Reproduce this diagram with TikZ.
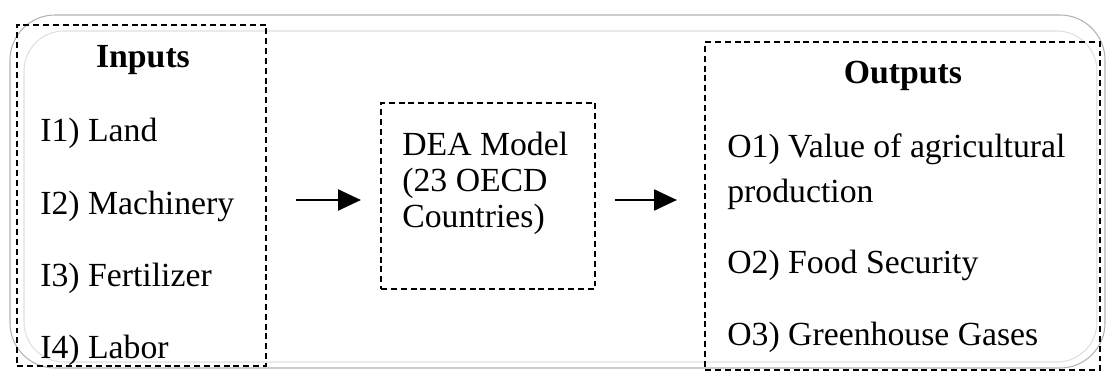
\documentclass[tikz,border=0pt]{standalone}
\usepackage{fontspec}
\setmainfont{Liberation Serif}
\usetikzlibrary{arrows.meta, positioning}

\tikzset{
	dashbox/.style = {draw, line width = 1.3pt, dash pattern = on 3.4pt off 2.2pt, inner sep = 0pt},
	item/.style = {anchor = base west, inner sep = 0pt, font = \fontsize{19.2}{22}\selectfont},
	head/.style = {anchor = base, inner sep = 0pt, font = \fontsize{19.2}{22}\selectfont\bfseries},
	flow/.style = {line width = 1.1pt, -{Triangle[length = 13pt, width = 12pt]}}
}

\begin{document}
\begin{tikzpicture}[x = 0.02cm, y = -0.02cm]
	\useasboundingbox (0,0) rectangle (1107,372);

	% frame
	\begin{scope}
		\draw [gray!60, line width = 0.6pt, rounded corners = 0.9cm] (10,15) rectangle (1105,368);
		\draw [gray!25, line width = 0.6pt, rounded corners = 0.8cm] (24,31) rectangle (1097,362);
	\end{scope}

	% boxes
	\begin{scope}
		\node [dashbox, minimum width = 4.98cm, minimum height = 6.82cm] (inbox) at (141.5,195.5) {};
		\node [dashbox, minimum width = 4.28cm, minimum height = 3.72cm] (deabox) at (488,196) {};
		\node [dashbox, minimum width = 7.9cm, minimum height = 6.56cm] (outbox) at (902.5,206) {};
	\end{scope}

	% inputs
	\begin{scope}
		\node [head] (inhead) at (143,68) {Inputs};
		\node [item] (land) at (40,141) {I1) Land};
		\node [item] (machinery) at (40,214) {I2) Machinery};
		\node [item] (fertilizer) at (40,286) {I3) Fertilizer};
		\node [item] (labor) at (40,358) {I4) Labor};
	\end{scope}

	% model
	\begin{scope}
		\node [item] (dea1) at (402,155) {DEA Model};
		\node [item] (dea2) at (402,191) {(23 OECD};
		\node [item] (dea3) at (402,227) {Countries)};
	\end{scope}

	% outputs
	\begin{scope}
		\node [head] (outhead) at (903,83) {Outputs};
		\node [item] (value) at (727,157) {O1) Value of agricultural};
		\node [item] (prod) at (727,202) {production};
		\node [item] (food) at (727,273) {O2) Food Security};
		\node [item] (ghg) at (727,345) {O3) Greenhouse Gases};
	\end{scope}

	\draw [flow, shorten < = 0.58cm, shorten > = 0.38cm] (inbox.east |- 0,200) -- (deabox.west |- 0,200);
	\draw [flow, shorten < = 0.38cm, shorten > = 0.54cm] (deabox.east |- 0,200) -- (outbox.west |- 0,200);
\end{tikzpicture}
\end{document}
